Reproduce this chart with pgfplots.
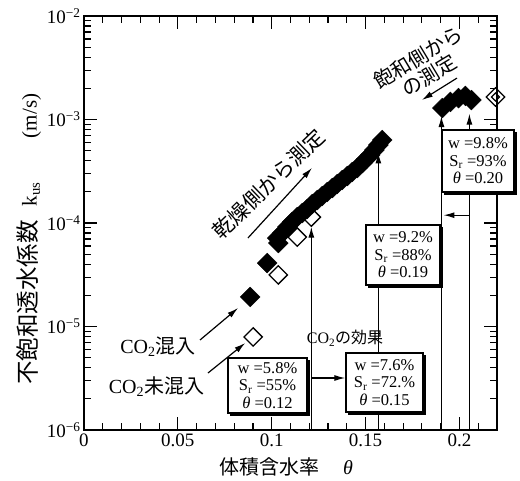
\documentclass[border=0pt]{standalone}
\usepackage{pgfplots}
\pgfplotsset{compat=1.18}
\usepackage{fontspec}
\setmainfont{Liberation Serif}
\newfontfamily\cjk{Noto Sans CJK JP}
\usetikzlibrary{arrows.meta,shadows}

\pgfplotstableread{
x y
0.0885 1.93e-5
0.0976 4.1e-5
0.1035 6.4e-5
0.1029 7.16e-5
0.1056 8.00e-5
0.1083 9.15e-5
0.1109 1.023e-4
0.1136 1.143e-4
0.1163 1.249e-4
0.1189 1.366e-4
0.1216 1.526e-4
0.1243 1.668e-4
0.1269 1.823e-4
0.1296 1.993e-4
0.1323 2.179e-4
0.1349 2.381e-4
0.1376 2.603e-4
0.1403 2.845e-4
0.1429 3.110e-4
0.1456 3.399e-4
0.1483 3.799e-4
0.1504 4.153e-4
0.1525 4.539e-4
0.1547 5.074e-4
0.1568 5.671e-4
0.1589 6.336e-4
0.1909 1.29e-3
0.1952 1.48e-3
0.1995 1.61e-3
0.2032 1.69e-3
0.2064 1.54e-3
}\withco

\pgfplotstableread{
x y
0.0901 7.92e-6
0.1035 3.15e-5
0.1136 7.32e-5
0.1211 1.14e-4
}\withoutco

\begin{document}
\begin{tikzpicture}[
  bx/.style={draw=black, line width=1.1pt, fill=white, align=center,
    inner sep=1pt,
    copy shadow={shadow xshift=2.5pt, shadow yshift=-2.5pt, fill=black, draw=black},
    font=\fontsize{16.5}{17.5}\selectfont},
  ar/.style={line width=1.2pt, -{Latex[length=11pt,width=6pt]}},
]
\useasboundingbox (-84pt,-51pt) rectangle (436pt,430pt);
\begin{axis}[
  at={(0,0)}, anchor=south west,
  scale only axis, width=413pt, height=414pt,
  xmin=0, xmax=0.22, ymin=1e-6, ymax=1e-2, ymode=log,
  clip=false,
  axis line style={line width=1.6pt},
  xtick={0,0.05,0.1,0.15,0.2},
  xticklabels={0,0.05,0.1,0.15,0.2},
  minor xtick={0.01,0.02,0.03,0.04,0.06,0.07,0.08,0.09,0.11,0.12,0.13,0.14,0.16,0.17,0.18,0.19,0.21},
  ytick={1e-6,1e-5,1e-4,1e-3,1e-2},
  yticklabels={10\textsuperscript{−6},10\textsuperscript{−5},10\textsuperscript{−4},10\textsuperscript{−3},10\textsuperscript{−2}},
  minor ytick={2e-6,3e-6,4e-6,5e-6,6e-6,7e-6,8e-6,9e-6,
    2e-5,3e-5,4e-5,5e-5,6e-5,7e-5,8e-5,9e-5,
    2e-4,3e-4,4e-4,5e-4,6e-4,7e-4,8e-4,9e-4,
    2e-3,3e-3,4e-3,5e-3,6e-3,7e-3,8e-3,9e-3},
  tick label style={font=\fontsize{19}{22}\selectfont},
  major tick length=13pt, minor tick length=7pt,
  tick style={line width=1.1pt, black},
]
% annotation lines (drawn under data)
\draw[ar] (axis cs:0.1211,1e-6) -- (axis cs:0.1211,9.2e-5);
\draw[ar] (axis cs:0.1568,1e-6) -- (axis cs:0.1568,4.8e-4);
\draw[ar] (axis cs:0.1904,1e-6) -- (axis cs:0.1904,1.08e-3);
\draw[ar] (axis cs:0.2053,1e-6) -- (axis cs:0.2053,1.14e-3);
\draw[ar] (axis cs:0.1211,3.18e-6) -- (axis cs:0.1392,3.18e-6);
\draw[ar] (axis cs:0.2053,1.19e-4) -- (axis cs:0.1915,1.19e-4);

\addplot[only marks, mark=square*, mark size=7pt,
  mark options={rotate=45, fill=black, draw=black}] table {\withco};
\addplot[only marks, mark=square, mark size=6.5pt,
  mark options={rotate=45, fill=white, draw=black, line width=1.3pt}] table {\withoutco};
\addplot[only marks, mark=square, mark size=6.5pt,
  mark options={rotate=45, fill=white, draw=black, line width=1.3pt}] coordinates {(0.2192,1.65e-3)};
\addplot[only marks, mark=square, mark size=2.8pt,
  mark options={rotate=45, fill=white, draw=black, line width=1.2pt}] coordinates {(0.2192,1.65e-3)};

% boxes
\node[bx, minimum width=79pt, minimum height=55pt] at (rel axis cs:0.4443,0.1075)
  {w =5.8\%\\S\textsubscript{r} =55\%\\\textit{θ} =0.12};
\node[bx, minimum width=77pt, minimum height=59pt] at (rel axis cs:0.7276,0.1147)
  {w =7.6\%\\S\textsubscript{r} =72.\%\\\textit{θ} =0.15};
\node[bx, minimum width=74pt, minimum height=60pt] at (rel axis cs:0.7724,0.4227)
  {w =9.2\%\\S\textsubscript{r} =88\%\\\textit{θ} =0.19};
\node[bx, minimum width=72pt, minimum height=62pt] at (rel axis cs:0.9540,0.6498)
  {w =9.8\%\\S\textsubscript{r} =93\%\\\textit{θ} =0.20};

\node[font=\fontsize{16}{18}\selectfont] at (rel axis cs:0.632,0.2222)
  {CO\textsubscript{2}{\cjk の効果}};

% labels with arrows
\node[font=\fontsize{20}{22}\selectfont] at (rel axis cs:0.179,0.2005)
  {CO\textsubscript{2}{\cjk 混入}};
\draw[ar] (rel axis cs:0.2809,0.2174) -- (axis cs:0.0821,1.51e-5);
\node[font=\fontsize{20}{22}\selectfont] at (rel axis cs:0.1755,0.1039)
  {CO\textsubscript{2}{\cjk 未混入}};
\draw[ar] (rel axis cs:0.3002,0.1377) -- (axis cs:0.0859,6.93e-6);

\node[rotate=44, font=\fontsize{21}{23}\cjk] at (rel axis cs:0.447,0.594) {乾燥側から測定};
\draw[ar] (rel axis cs:0.397,0.4638) -- (rel axis cs:0.552,0.6329);

\node[rotate=31, align=center, font=\fontsize{20}{21}\cjk] at (rel axis cs:0.822,0.878)
  {飽和側から\\の測定};
\draw[ar] (rel axis cs:0.903,0.850) -- (rel axis cs:0.818,0.797);

% axis labels
\node[rotate=90, font=\fontsize{21}{23}\selectfont] at (rel axis cs:-0.133,0.461)
  {{\fontsize{23.5}{24}\cjk 不飽和透水係数}\hspace{14pt}k\textsubscript{us}\hspace{44pt}(m/s)};
\node[font=\fontsize{20}{22}\selectfont] at (rel axis cs:0.489,-0.0894)
  {{\cjk 体積含水率}\hspace{24pt}\textit{θ}};
\end{axis}
\end{tikzpicture}
\end{document}
